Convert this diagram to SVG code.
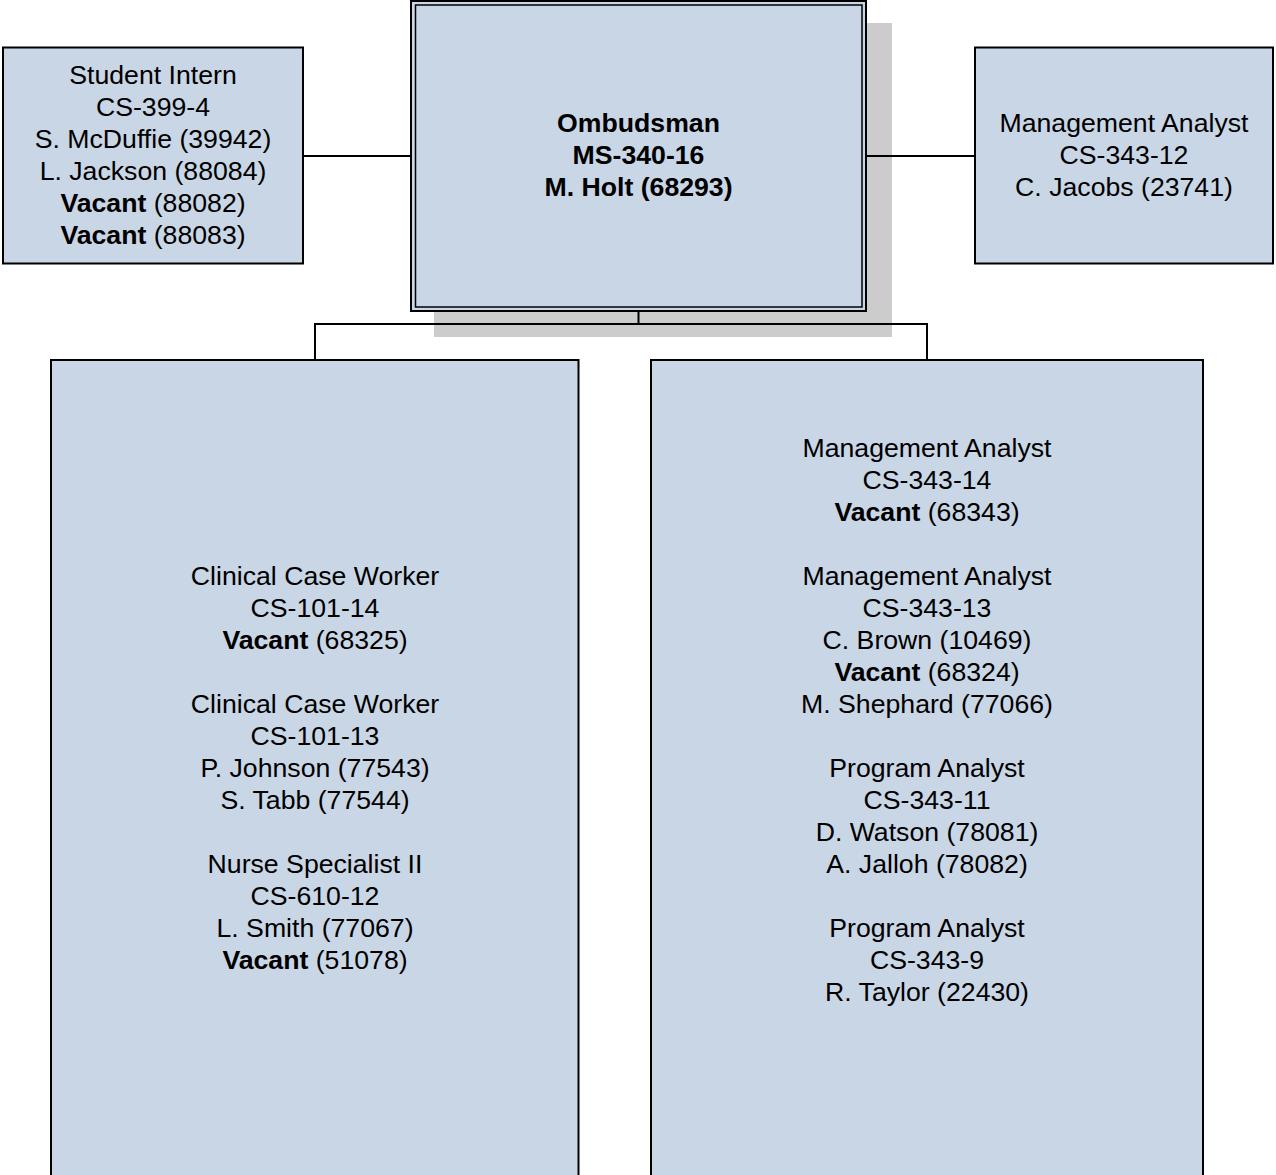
<svg xmlns="http://www.w3.org/2000/svg" width="1276" height="1175" viewBox="0 0 1276 1175">
<style>
.box{fill:#C9D6E6;stroke:#000;stroke-width:2}
.t{font-family:"Liberation Sans",Arial,sans-serif;font-size:26.67px;fill:#000;text-anchor:middle}
.b{font-weight:bold}
.c{stroke:#000;stroke-width:2;fill:none}
</style>
<rect width="1276" height="1175" fill="#fff"/>
<g id="ombudsman">
<rect x="434" y="23" width="458" height="314" fill="#CCCCCC"/>
<rect class="box" x="411" y="1" width="455" height="310"/>
<rect x="415.5" y="5" width="446.5" height="302" fill="none" stroke="#000" stroke-width="1.5"/>
<text class="t b" x="638.5" y="132">Ombudsman</text>
<text class="t b" x="638.5" y="164">MS-340-16</text>
<text class="t b" x="638.5" y="196">M. Holt (68293)</text>
</g>
<g id="connectors">
<line class="c" x1="303" y1="156" x2="411" y2="156"/>
<line class="c" x1="866" y1="156" x2="975" y2="156"/>
<path class="c" d="M638.5 311 V324 M315 360 V324 H927 V360"/>
</g>
<g id="student-intern">
<rect class="box" x="3" y="47.5" width="300" height="216"/>
<text class="t" x="153" y="84">Student Intern</text>
<text class="t" x="153" y="116">CS-399-4</text>
<text class="t" x="153" y="148">S. McDuffie (39942)</text>
<text class="t" x="153" y="180">L. Jackson (88084)</text>
<text class="t" x="153" y="212"><tspan class="b">Vacant</tspan> (88082)</text>
<text class="t" x="153" y="244"><tspan class="b">Vacant</tspan> (88083)</text>
</g>
<g id="management-analyst-12">
<rect class="box" x="975" y="47.5" width="298" height="216"/>
<text class="t" x="1124" y="132">Management Analyst</text>
<text class="t" x="1124" y="164">CS-343-12</text>
<text class="t" x="1124" y="196">C. Jacobs (23741)</text>
</g>
<g id="clinical">
<rect class="box" x="51" y="360" width="527.5" height="830"/>
<text class="t" x="315" y="584.5">Clinical Case Worker</text>
<text class="t" x="315" y="616.5">CS-101-14</text>
<text class="t" x="315" y="648.5"><tspan class="b">Vacant</tspan> (68325)</text>
<text class="t" x="315" y="712.5">Clinical Case Worker</text>
<text class="t" x="315" y="744.5">CS-101-13</text>
<text class="t" x="315" y="776.5">P. Johnson (77543)</text>
<text class="t" x="315" y="808.5">S. Tabb (77544)</text>
<text class="t" x="315" y="872.5">Nurse Specialist II</text>
<text class="t" x="315" y="904.5">CS-610-12</text>
<text class="t" x="315" y="936.5">L. Smith (77067)</text>
<text class="t" x="315" y="968.5"><tspan class="b">Vacant</tspan> (51078)</text>
</g>
<g id="analysts">
<rect class="box" x="651" y="360" width="552" height="830"/>
<text class="t" x="927" y="456.5">Management Analyst</text>
<text class="t" x="927" y="488.5">CS-343-14</text>
<text class="t" x="927" y="520.5"><tspan class="b">Vacant</tspan> (68343)</text>
<text class="t" x="927" y="584.5">Management Analyst</text>
<text class="t" x="927" y="616.5">CS-343-13</text>
<text class="t" x="927" y="648.5">C. Brown (10469)</text>
<text class="t" x="927" y="680.5"><tspan class="b">Vacant</tspan> (68324)</text>
<text class="t" x="927" y="712.5">M. Shephard (77066)</text>
<text class="t" x="927" y="776.5">Program Analyst</text>
<text class="t" x="927" y="808.5">CS-343-11</text>
<text class="t" x="927" y="840.5">D. Watson (78081)</text>
<text class="t" x="927" y="872.5">A. Jalloh (78082)</text>
<text class="t" x="927" y="936.5">Program Analyst</text>
<text class="t" x="927" y="968.5">CS-343-9</text>
<text class="t" x="927" y="1000.5">R. Taylor (22430)</text>
</g>
</svg>
